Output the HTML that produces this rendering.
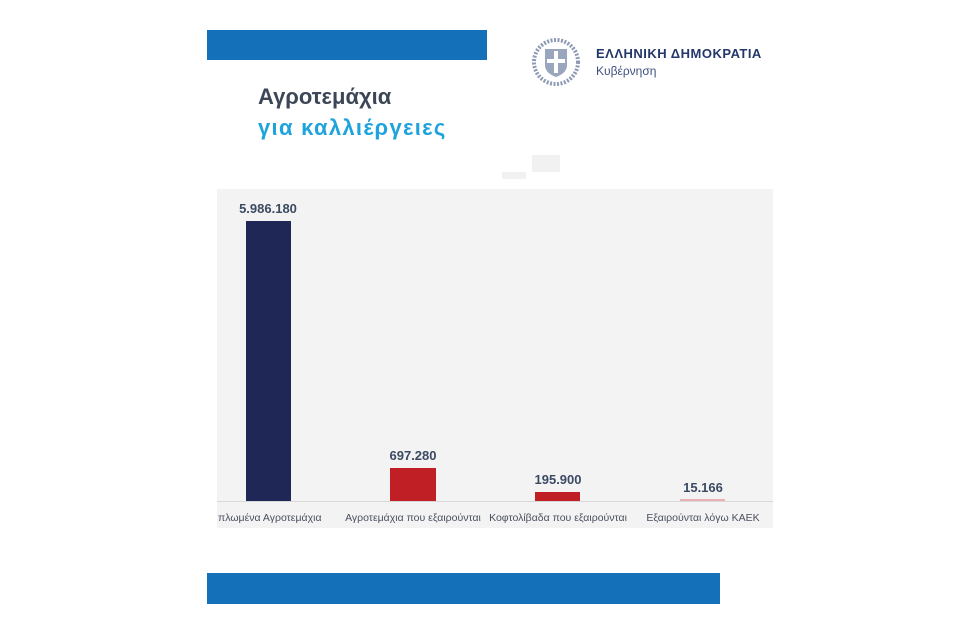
<!DOCTYPE html>
<html><head><meta charset="utf-8"><style>
body{margin:0;width:960px;height:620px;background:#fff;position:relative;overflow:hidden;font-family:"Liberation Sans","DejaVu Sans",sans-serif}
div{position:absolute}
.v{font-weight:bold;font-size:13px;color:#3b4a62;text-align:center;width:120px}
.l{font-size:10.5px;color:#4a5060;text-align:center;width:150px;top:512px;white-space:nowrap}
</style></head><body>
<div style="left:207px;top:30px;width:280px;height:30px;background:#1470b8"></div>
<div style="left:207px;top:573px;width:513px;height:31px;background:#1470b8"></div>
<div style="left:258px;top:84px;font-size:22px;font-weight:bold;color:#3d4656">Αγροτεμάχια</div>
<div style="left:258px;top:115px;font-size:22px;font-weight:bold;color:#1fa3dd;letter-spacing:1.3px">για καλλιέργειες</div>
<svg style="position:absolute;left:531px;top:37px" width="50" height="50"><circle cx="25" cy="25" r="22" fill="none" stroke="#8e9ab3" stroke-width="4" stroke-dasharray="2 1.5"/><path d="M14 12h22v16c0 7-6 10-11 12-5-2-11-5-11-12z" fill="#9aa6bd"/><rect x="23" y="14" width="4" height="22" fill="#fff"/><rect x="16" y="22" width="18" height="4" fill="#fff"/></svg>
<div style="left:596px;top:46px;font-size:13px;font-weight:bold;color:#24376b;letter-spacing:0.5px">ΕΛΛΗΝΙΚΗ ΔΗΜΟΚΡΑΤΙΑ</div>
<div style="left:596px;top:64px;font-size:12px;color:#3f5080">Κυβέρνηση</div>
<div style="left:532px;top:155px;width:28px;height:17px;background:#f1f1f1"></div>
<div style="left:502px;top:172px;width:24px;height:7px;background:#f1f1f1"></div>
<div style="left:217px;top:189px;width:556px;height:339px;background:#f3f3f3"></div>
<div style="left:217px;top:501px;width:556px;height:1px;background:#d8d8d8"></div>
<div style="left:246px;top:221px;width:45px;height:280px;background:#1f2757"></div>
<div style="left:390px;top:468px;width:46px;height:33px;background:#c01f26"></div>
<div style="left:535px;top:492px;width:45px;height:9px;background:#c01f26"></div>
<div style="left:680px;top:499px;width:45px;height:2px;background:#eab0b5"></div>
<div class="v" style="left:208px;top:201px">5.986.180</div>
<div class="v" style="left:353px;top:448px">697.280</div>
<div class="v" style="left:498px;top:472px">195.900</div>
<div class="v" style="left:643px;top:480px">15.166</div>
<div class="l" style="width:150px;text-align:left;left:218px">πλωμένα Αγροτεμάχια</div>
<div class="l" style="left:338px">Αγροτεμάχια που εξαιρούνται</div>
<div class="l" style="left:483px">Κοφτολίβαδα που εξαιρούνται</div>
<div class="l" style="left:628px">Εξαιρούνται λόγω ΚΑΕΚ</div>
</body></html>
